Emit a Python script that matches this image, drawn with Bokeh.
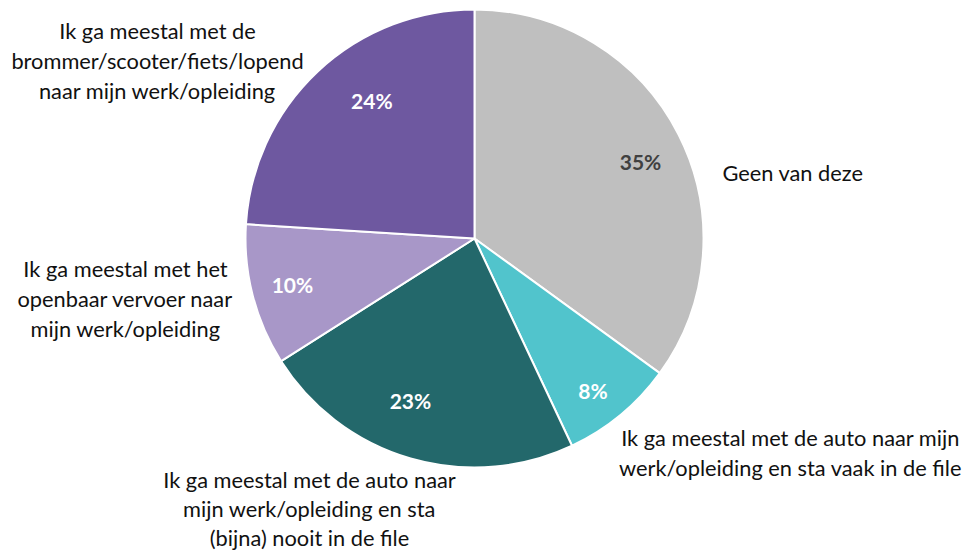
import math
from bokeh.plotting import figure
from bokeh.models import ColumnDataSource, Range1d
from bokeh.core.properties import value
from bokeh.embed import file_html
from bokeh.resources import INLINE

# --- data ---
categories = [
    "Geen van deze",
    "Ik ga meestal met de auto naar mijn werk/opleiding en sta vaak in de file",
    "Ik ga meestal met de auto naar mijn werk/opleiding en sta (bijna) nooit in de file",
    "Ik ga meestal met het openbaar vervoer naar mijn werk/opleiding",
    "Ik ga meestal met de brommer/scooter/fiets/lopend naar mijn werk/opleiding",
]
shares = [35, 8, 23, 10, 24]
pct_labels = ["35%", "8%", "23%", "10%", "24%"]
colors = ["#BFBFBF", "#51C4CC", "#23686B", "#A897C8", "#6E58A0"]
pct_colors = ["#404040", "#FFFFFF", "#FFFFFF", "#FFFFFF", "#FFFFFF"]

# category label lines (wrapped as in the reference)
label_lines = [
    ["Geen van deze"],
    ["Ik ga meestal met de auto naar mijn", "werk/opleiding en sta vaak in de file"],
    ["Ik ga meestal met de auto naar", "mijn werk/opleiding en sta", "(bijna) nooit in de file"],
    ["Ik ga meestal met het", "openbaar vervoer naar", "mijn werk/opleiding"],
    ["Ik ga meestal met de", "brommer/scooter/fiets/lopend", "naar mijn werk/opleiding"],
]

# --- layout (screen-like coordinates, y = 550 - screen_y) ---
W, H = 963, 550
cx, cy, R = 474, 550 - 238, 229

total = sum(shares)
starts, ends = [], []
a = math.pi / 2
for s in shares:
    ang = 2 * math.pi * s / total
    starts.append(a - ang)
    ends.append(a)
    a -= ang

p = figure(width=W, height=H, output_backend="svg", toolbar_location=None,
           x_range=Range1d(0, W), y_range=Range1d(0, H),
           min_border=0, outline_line_color=None)
p.axis.visible = False
p.grid.visible = False
p.background_fill_color = "white"
p.border_fill_color = "white"

src = ColumnDataSource(dict(start=starts, end=ends, color=colors,
                            x=[cx] * 5, y=[cy] * 5))
p.wedge(x="x", y="y", radius=R, start_angle="start", end_angle="end",
        fill_color="color", line_color="white", line_width=2, source=src)

# percentage labels placed along slice mid-angle
pct_r = [0.80, 0.84, 0.76, 0.82, 0.75]
pct_da = [-2.0, -1.6, -5.4, -0.2, -6.5]  # degrees offset from mid-angle
px, py = [], []
for st, en, rr, da in zip(starts, ends, pct_r, pct_da):
    mid = (st + en) / 2 + math.radians(da)
    px.append(cx + R * rr * math.cos(mid))
    py.append(cy + R * rr * math.sin(mid))
p.text(x=px, y=py, text=pct_labels, text_color=pct_colors,
       text_font=value("Lato"), text_font_style="bold", text_font_size="21px",
       text_align="center", text_baseline="middle")

# category labels
anchors = [(722, 172, "left", 29.8), (790, 437, "center", 29.8),
           (309, 479, "center", 29.0), (125, 268, "center", 29.8),
           (157, 30, "center", 29.8)]
tx, ty, tt, ta = [], [], [], []
for lines, (ax, ay, al, lh) in zip(label_lines, anchors):
    for i, ln in enumerate(lines):
        tx.append(ax)
        ty.append(550 - (ay + i * lh))
        tt.append(ln)
        ta.append(al)
lsrc = ColumnDataSource(dict(x=tx, y=ty, text=tt, align=ta))
p.text(x="x", y="y", text="text", text_align="align", source=lsrc,
       text_font=value("Lato"), text_font_size="21.8px", text_color="#111111",
       text_baseline="middle")

open("out.html", "w").write(file_html(p, INLINE))
